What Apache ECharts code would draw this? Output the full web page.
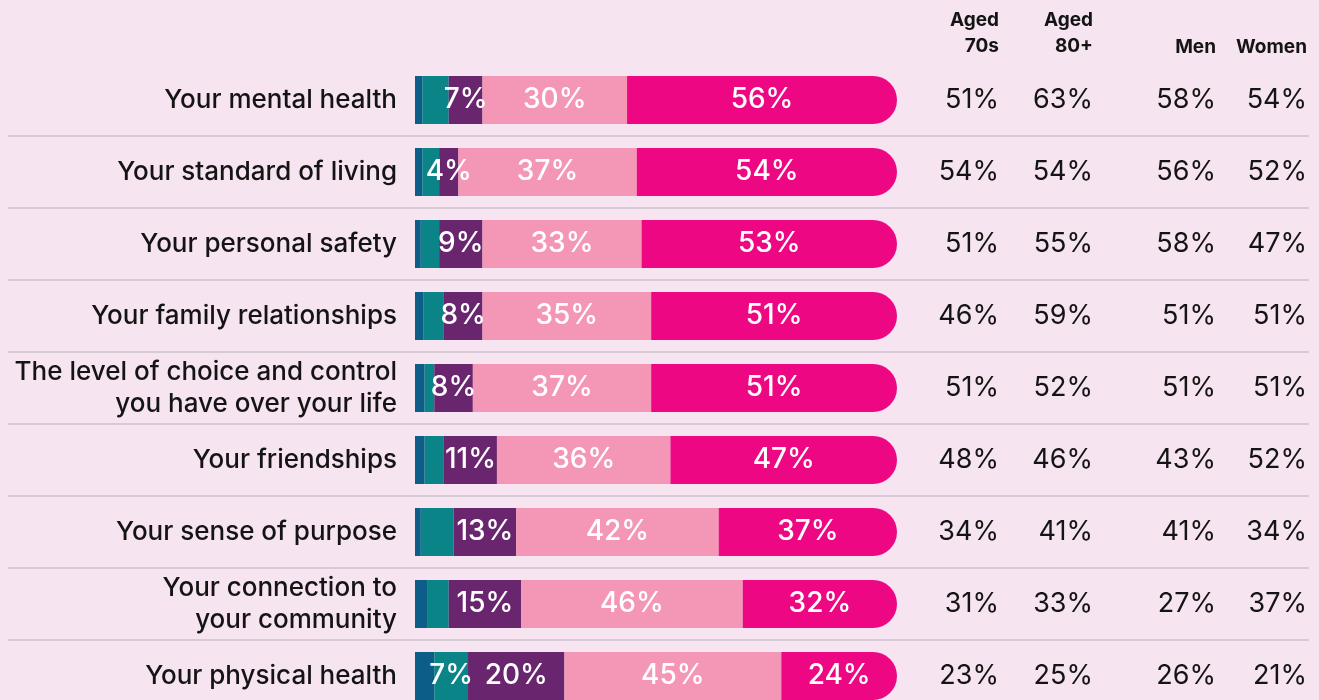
<!DOCTYPE html>
<html>
<head>
<meta charset="utf-8">
<script src="https://cdn.jsdelivr.net/npm/echarts@6/dist/echarts.min.js"></script>
<style>
  html, body { margin: 0; padding: 0; background: #f6e4f0; }
  #chart { width: 1319px; height: 700px; }
</style>
</head>
<body>
<div id="chart"></div>
<script>
  // rows, top to bottom
  const categories = [
    'Your mental health',
    'Your standard of living',
    'Your personal safety',
    'Your family relationships',
    'The level of choice and control\nyou have over your life',
    'Your friendships',
    'Your sense of purpose',
    'Your connection to\nyour community',
    'Your physical health'
  ]
  // stacked segments (%), left to right
  const darkBlue = [1.5, 1.5, 1.2, 1.8, 2, 2, 1.2, 2.5, 4]
  const teal = [5.5, 3.5, 3.8, 4.2, 2, 4, 6.8, 4.5, 7]
  const purple = [7, 4, 9, 8, 8, 11, 13, 15, 20]
  const lightPink = [30, 37, 33, 35, 37, 36, 42, 46, 45]
  const hotPink = [56, 54, 53, 51, 51, 47, 37, 32, 24]
  // right-hand table
  const aged70s = ['51%', '54%', '51%', '46%', '51%', '48%', '34%', '31%', '23%']
  const aged80 = ['63%', '54%', '55%', '59%', '52%', '46%', '41%', '33%', '25%']
  const men = ['58%', '56%', '58%', '51%', '51%', '43%', '41%', '27%', '26%']
  const women = ['54%', '52%', '47%', '51%', '51%', '52%', '34%', '37%', '21%']
  const tableHeaders = ['Aged\n70s', 'Aged\n80+', 'Men', 'Women']

  const FONT = 'Inter, "Noto Sans", sans-serif'
  const barLeft = 415
  const barRight = 897
  const colRight = [999, 1093, 1216, 1307]

  let myChart = echarts.init(document.getElementById('chart'))

  function segLabel(minVal) {
    return {
      show: true,
      color: '#ffffff',
      fontSize: 28,
      fontWeight: 500,
      fontFamily: FONT,
      formatter: p => (p.value >= minVal ? p.value + '%' : '')
    }
  }

  function tableAxis(values, idx) {
    return {
      type: 'category',
      data: values,
      inverse: true,
      gridIndex: 0,
      position: 'right',
      offset: colRight[idx] - barRight,
      axisLine: {show: false},
      axisTick: {show: false},
      splitLine: {show: false},
      axisLabel: {
        margin: 0,
        align: 'right',
        fontSize: 27,
        color: '#141414',
        fontFamily: FONT
      }
    }
  }

  let option = {
    backgroundColor: '#f6e4f0',
    animation: false,
    grid: [
      {left: barLeft, width: barRight - barLeft, top: 64, height: 648, outerBoundsMode: 'none'},
      {left: 8, right: 10, top: 136, height: 576, outerBoundsMode: 'none'}
    ],
    xAxis: [
      {type: 'value', gridIndex: 0, min: 0, max: 100, show: false},
      {type: 'value', gridIndex: 1, min: 0, max: 1, show: false}
    ],
    yAxis: [
      {
        type: 'category',
        data: categories,
        inverse: true,
        gridIndex: 0,
        axisLine: {show: false},
        axisTick: {show: false},
        axisLabel: {
          margin: 18,
          fontSize: 26,
          fontWeight: 500,
          lineHeight: 32,
          color: '#141414',
          fontFamily: FONT,
          align: 'right'
        }
      },
      tableAxis(aged70s, 0),
      tableAxis(aged80, 1),
      tableAxis(men, 2),
      tableAxis(women, 3),
      {
        // row separators
        type: 'value',
        gridIndex: 1,
        inverse: true,
        min: 1,
        max: 9,
        interval: 1,
        axisLine: {show: false},
        axisTick: {show: false},
        axisLabel: {show: false},
        splitLine: {show: true, lineStyle: {color: '#cbc3cb', width: 1.5}}
      }
    ],
    graphic: tableHeaders.map((h, i) => ({
      type: 'text',
      x: colRight[i],
      y: i < 2 ? 7 : 34,
      style: {
        text: h,
        fontSize: 19,
        fontWeight: 'bold',
        lineHeight: 26,
        fill: '#141414',
        align: 'right',
        verticalAlign: 'top',
        fontFamily: FONT
      }
    })),
    series: [
      {name: 'dark blue', type: 'bar', stack: 'a', barWidth: 48, data: darkBlue, itemStyle: {color: '#0c5d88'}},
      {name: 'teal', type: 'bar', stack: 'a', data: teal, itemStyle: {color: '#0a8486'}, label: segLabel(7)},
      {name: 'purple', type: 'bar', stack: 'a', data: purple, itemStyle: {color: '#69266f'}, label: segLabel(0)},
      {name: 'light pink', type: 'bar', stack: 'a', data: lightPink, itemStyle: {color: '#f497b7'}, label: segLabel(0)},
      {
        name: 'hot pink', type: 'bar', stack: 'a', data: hotPink,
        itemStyle: {color: '#ee0782', borderRadius: [0, 24, 24, 0]},
        label: segLabel(0)
      }
    ]
  }

  myChart.setOption(option)
</script>
</body>
</html>
